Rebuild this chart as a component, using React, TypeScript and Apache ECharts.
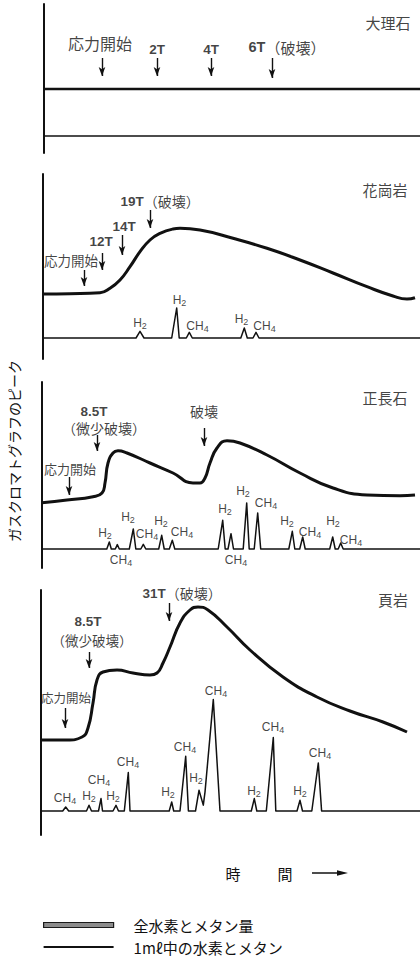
import React, { useEffect, useRef } from "react";
import * as echarts from "echarts";

const TOTAL = "全水素とメタン量";
const PER_ML = "1mℓ中の水素とメタン";
const JP = "'Noto Sans CJK JP', sans-serif";
const LAT = "'Liberation Sans', 'Noto Sans CJK JP', sans-serif";
const INK = "#111";

// ---------- 大理石 ----------
const marbleCurveTime = [0, 376];
const marbleCurveTotal = [47, 47];
const marblePeakGas: string[] = [];
const marblePeakTime: number[] = [];
const marblePeakHeight: number[] = [];
const marblePeakRise: number[] = [];
const marblePeakFall: number[] = [];
const marbleEventTime = [58, 113, 167, 228];

// ---------- 花崗岩 ----------
const graniteCurveTime = [0, 27, 57, 67, 77, 87, 97, 107, 117, 130, 137, 157, 190, 224, 257, 290, 324, 350, 364, 372];
const graniteCurveTotal = [44, 44.3, 45.3, 49.7, 58, 71.3, 86.3, 98, 104.7, 109, 109.7, 108, 99.7, 89.7, 78, 65, 51.3, 42, 39, 40.3];
const granitePeakGas = ["H2", "H2", "CH4", "H2", "CH4"];
const granitePeakTime = [97, 133.7, 146.3, 201.3, 213];
const granitePeakHeight = [6.6, 30, 5.6, 10, 5.6];
const granitePeakRise = [4, 5, 3, 3.5, 3];
const granitePeakFall = [4, 2.5, 3, 3, 3];
const graniteEventTime = [41, 59, 79, 107];

// ---------- 正長石 ----------
const orthoCurveTime = [0, 25, 51, 60, 63, 66, 71, 76, 85, 108, 131, 151, 158, 163, 168, 175, 185, 198, 225, 258, 291, 325, 358, 373];
const orthoCurveTotal = [46.3, 49, 52.3, 56, 66, 86, 96, 98.3, 96, 86, 76, 66, 66, 71, 86, 101, 108.3, 106, 94, 76, 61, 54, 53.3, 54];
const orthoPeakGas = ["H2", "CH4", "H2", "CH4", "H2", "CH4", "H2", "CH4", "H2", "CH4", "H2", "CH4", "H2", "CH4"];
const orthoPeakTime = [67.3, 75.3, 91.3, 101.3, 119.7, 130.3, 180.7, 189, 204.7, 215.7, 250.3, 260.7, 290.7, 298.7];
const orthoPeakHeight = [7, 4.4, 20, 4.7, 13.7, 8.7, 28.7, 15.3, 46, 36, 17.7, 12, 12, 6];
const orthoPeakRise = [2.5, 2, 4, 2.5, 3, 3, 4.5, 3, 3.5, 3.5, 3.5, 3, 3, 2.5];
const orthoPeakFall = [2, 2, 2.5, 2.5, 2.5, 2.5, 2.5, 2.5, 2.5, 3, 2.5, 2.5, 2.5, 2.5];
const orthoEventTime = [27, 55, 162];

// ---------- 頁岩 ----------
const shaleCurveTime = [0, 26, 41, 47, 52, 56, 62, 76, 92, 109, 116, 122, 129, 139, 149, 157, 167, 186, 209, 242, 276, 309, 342, 366];
const shaleCurveTotal = [71, 71, 74, 83, 108, 131, 139, 141, 138, 136, 138, 148, 164, 188, 201, 204, 201, 184, 161, 134, 114, 100, 89, 79];
const shalePeakGas = ["CH4", "H2", "CH4", "H2", "CH4", "H2", "CH4", "H2", "CH4", "H2", "CH4", "H2", "CH4"];
const shalePeakTime = [24.7, 48, 60, 75, 87.3, 130.7, 144.7, 158, 172.3, 213.3, 232.3, 259, 277.3];
const shalePeakHeight = [4, 5.7, 12.4, 5.7, 38.4, 9, 54.7, 20.7, 111.4, 12.4, 73.4, 10.7, 48];
const shalePeakRise = [3, 2.5, 2.5, 3, 4, 2.5, 5.7, 3.5, 10, 3, 7, 3, 6.5];
const shalePeakFall = [3, 2.5, 1.5, 2.5, 1.7, 2, 2.7, 6, 6.7, 2.5, 2.5, 2.5, 3.3];
const shaleEventTime = [24, 48, 128];

type TextItem = { text: string; at: number[]; size: number };

type Panel = {
  left: number;
  top: number;
  height: number;
  yMin: number;
  yMax: number;
  title: string;
  titleAt: number[];
  curveTime: number[];
  curveTotal: number[];
  curveWidth: number;
  traceWidth: number;
  gas: string[];
  peakTime: number[];
  peakHeight: number[];
  rise: number[];
  fall: number[];
  gasLabelAt: number[][];
  eventTime: number[];
  arrowSpan: number[][];
  texts: TextItem[];
};

const panels: Panel[] = [
  {
    left: 44, top: 4, height: 149, yMin: -17, yMax: 132,
    title: "大理石", titleAt: [344, 114],
    curveTime: marbleCurveTime, curveTotal: marbleCurveTotal, curveWidth: 2.4, traceWidth: 1.7,
    gas: marblePeakGas, peakTime: marblePeakTime, peakHeight: marblePeakHeight,
    rise: marblePeakRise, fall: marblePeakFall, gasLabelAt: [],
    eventTime: marbleEventTime,
    arrowSpan: [[78, 60], [78, 60], [78, 60], [78, 58]],
    texts: [
      { text: "応力開始", at: [56, 93], size: 16 },
      { text: "2T", at: [113, 87], size: 14 },
      { text: "4T", at: [167, 87], size: 14 },
      { text: "6T（破壊）", at: [243, 89], size: 15 },
    ],
  },
  {
    left: 43, top: 174, height: 185, yMin: -21, yMax: 164,
    title: "花崗岩", titleAt: [342, 149],
    curveTime: graniteCurveTime, curveTotal: graniteCurveTotal, curveWidth: 3, traceWidth: 1.5,
    gas: granitePeakGas, peakTime: granitePeakTime, peakHeight: granitePeakHeight,
    rise: granitePeakRise, fall: granitePeakFall,
    gasLabelAt: [[97, 15.5], [136.5, 38.5], [154.5, 12], [198.5, 19], [221.5, 12]],
    eventTime: graniteEventTime,
    arrowSpan: [[68, 52], [85, 68], [103, 83], [128, 110]],
    texts: [
      { text: "応力開始", at: [28, 78], size: 13.5 },
      { text: "12T", at: [58, 97], size: 14 },
      { text: "14T", at: [81, 112], size: 14 },
      { text: "19T（破壊）", at: [117, 137], size: 14 },
    ],
  },
  {
    left: 42, top: 382, height: 186, yMin: -19, yMax: 167,
    title: "正長石", titleAt: [343, 152],
    curveTime: orthoCurveTime, curveTotal: orthoCurveTotal, curveWidth: 3, traceWidth: 1.5,
    gas: orthoPeakGas, peakTime: orthoPeakTime, peakHeight: orthoPeakHeight,
    rise: orthoPeakRise, fall: orthoPeakFall,
    gasLabelAt: [[63, 16], [79, -11], [86, 32], [105, 15], [119, 28], [140, 17], [183, 40], [194, -11], [201, 58], [224, 46], [245, 28], [268, 17], [291, 28], [309, 9]],
    eventTime: orthoEventTime,
    arrowSpan: [[72, 54], [114, 98], [121, 103]],
    texts: [
      { text: "応力開始", at: [28, 81], size: 13 },
      { text: "8.5T", at: [52, 138], size: 14 },
      { text: "（微少破壊）", at: [62, 121], size: 14 },
      { text: "破壊", at: [162, 138], size: 14 },
    ],
  },
  {
    left: 41, top: 590, height: 245, yMin: -24, yMax: 221,
    title: "頁岩", titleAt: [352, 212],
    curveTime: shaleCurveTime, curveTotal: shaleCurveTotal, curveWidth: 3, traceWidth: 1.5,
    gas: shalePeakGas, peakTime: shalePeakTime, peakHeight: shalePeakHeight,
    rise: shalePeakRise, fall: shalePeakFall,
    gasLabelAt: [[24, 13], [48, 15], [58, 31], [72, 15], [87, 49], [127, 19], [144, 64], [155, 33], [175, 120], [213, 20], [232, 84], [259, 20], [279, 58]],
    eventTime: shaleEventTime,
    arrowSpan: [[103, 83], [159, 143], [208, 190]],
    texts: [
      { text: "応力開始", at: [25, 114], size: 12.5 },
      { text: "8.5T", at: [47, 190], size: 14 },
      { text: "（微少破壊）", at: [51, 171], size: 13.5 },
      { text: "31T（破壊）", at: [141, 218], size: 14 },
    ],
  },
];

// Chromatogram trace: each peak is a triangle (rise / fall half-widths);
// overlapping peaks add up at every vertex.
function buildTrace(p: Panel, end: number): number[][] {
  const xs = new Set<number>([0, end]);
  p.peakTime.forEach((t, i) => {
    xs.add(t - p.rise[i]);
    xs.add(t);
    xs.add(t + p.fall[i]);
  });
  const sorted = Array.from(xs).sort((a, b) => a - b);
  return sorted.map((x) => {
    let v = 0;
    p.peakTime.forEach((t, i) => {
      const a = t - p.rise[i];
      const b = t + p.fall[i];
      if (x > a && x < b) {
        v += x <= t ? (p.peakHeight[i] * (x - a)) / p.rise[i] : (p.peakHeight[i] * (b - x)) / p.fall[i];
      }
    });
    return [x, Math.round(v * 100) / 100];
  });
}

function buildOption() {
  const grid: any[] = [];
  const xAxis: any[] = [];
  const yAxis: any[] = [];
  const series: any[] = [];

  panels.forEach((p, i) => {
    const xMax = 420 - p.left;
    grid.push({ left: p.left, right: 0, top: p.top, height: p.height, containLabel: false });
    xAxis.push({ type: "value", gridIndex: i, min: 0, max: xMax, show: false });
    yAxis.push({
      type: "value",
      gridIndex: i,
      min: p.yMin,
      max: p.yMax,
      axisLine: { show: true, onZero: false, lineStyle: { color: INK, width: 2 } },
      axisTick: { show: false },
      axisLabel: { show: false },
      splitLine: { show: false },
    });

    series.push({
      type: "line",
      name: TOTAL,
      xAxisIndex: i,
      yAxisIndex: i,
      data: p.curveTime.map((t, k) => [t, p.curveTotal[k]]),
      smooth: 0.5,
      symbol: "none",
      silent: true,
      color: INK,
      lineStyle: { color: INK, width: p.curveWidth },
      z: 3,
    });

    series.push({
      type: "line",
      name: PER_ML,
      xAxisIndex: i,
      yAxisIndex: i,
      data: buildTrace(p, xMax),
      symbol: "none",
      silent: true,
      color: INK,
      lineStyle: { color: INK, width: p.traceWidth, join: "round" },
      z: 3,
    });

    // gas names above / below the peaks
    series.push({
      type: "scatter",
      xAxisIndex: i,
      yAxisIndex: i,
      symbolSize: 1,
      silent: true,
      itemStyle: { color: "transparent" },
      data: p.gas.map((g, k) => ({ value: p.gasLabelAt[k], name: g })),
      label: {
        show: true,
        position: "inside",
        color: INK,
        formatter: (d: any) => (d.name === "H2" ? "{m|H}{s|2}" : "{m|CH}{s|4}"),
        rich: {
          m: { fontFamily: LAT, fontSize: 12, lineHeight: 15, color: INK },
          s: { fontFamily: LAT, fontSize: 9, lineHeight: 9, verticalAlign: "bottom", color: INK },
        },
      },
      z: 5,
    });

    // panel name, stress annotations and arrows
    series.push({
      type: "scatter",
      xAxisIndex: i,
      yAxisIndex: i,
      symbolSize: 1,
      silent: true,
      itemStyle: { color: "transparent" },
      data: [
        { value: p.titleAt, name: p.title, label: { fontSize: 15 } },
        ...p.texts.map((x) => ({
          value: x.at,
          name: x.text,
          label: { fontSize: x.size, rich: { b: { fontFamily: LAT, fontWeight: "bold", fontSize: x.size - 0.5, color: INK } } },
        })),
      ],
      label: {
        show: true,
        position: "inside",
        color: INK,
        fontFamily: JP,
        formatter: (d: any) => String(d.name).replace(/([\d.]+T)/, "{b|$1}"),
        rich: { b: { fontFamily: LAT, fontWeight: "bold", fontSize: 13.5, color: INK } },
      },
      markLine: {
        silent: true,
        animation: false,
        symbol: ["none", "arrow"],
        symbolSize: [5, 9],
        label: { show: false },
        lineStyle: { color: INK, width: 1.4, type: "solid" },
        emphasis: { disabled: true },
        data: p.eventTime.map((t, k) => [
          { coord: [t, p.arrowSpan[k][0]] },
          { coord: [t, p.arrowSpan[k][1]] },
        ]),
      },
      z: 5,
    });
  });

  return {
    animation: false,
    backgroundColor: "#fff",
    grid,
    xAxis,
    yAxis,
    series,
    legend: {
      orient: "vertical",
      left: 43,
      top: 917,
      padding: 0,
      itemWidth: 70,
      itemHeight: 5,
      itemGap: 6,
      selectedMode: false,
      textStyle: { fontFamily: JP, fontSize: 15, lineHeight: 16, color: INK, padding: [0, 0, 0, 15] },
      data: [
        { name: TOTAL, icon: "rect", itemStyle: { color: "#8c8c8c", borderColor: "#1a1a1a", borderWidth: 1.2 } },
        { name: PER_ML, icon: "path://M0 0H70V2H0Z", itemStyle: { color: INK, borderWidth: 0 } },
      ],
    },
    graphic: [
      {
        type: "text",
        x: 14,
        y: 451,
        rotation: Math.PI / 2,
        style: {
          text: "ガスクロマトグラフのピーク",
          font: "14px 'Noto Sans CJK JP'",
          fill: INK,
          textAlign: "center",
          textVerticalAlign: "middle",
        },
      },
      {
        type: "text",
        x: 233,
        y: 873,
        style: { text: "時", font: "15px 'Noto Sans CJK JP'", fill: INK, textAlign: "center", textVerticalAlign: "middle" },
      },
      {
        type: "text",
        x: 285,
        y: 873,
        style: { text: "間", font: "15px 'Noto Sans CJK JP'", fill: INK, textAlign: "center", textVerticalAlign: "middle" },
      },
      {
        type: "line",
        shape: { x1: 312, y1: 873, x2: 340, y2: 873 },
        style: { stroke: INK, lineWidth: 1.5 },
      },
      {
        type: "polygon",
        shape: { points: [[348, 873], [337, 870.3], [337, 875.7]] },
        style: { fill: INK },
      },
    ],
  };
}

export default function App() {
  const ref = useRef<HTMLDivElement>(null);
  useEffect(() => {
    if (!ref.current) return;
    const chart = echarts.init(ref.current, undefined, { renderer: "svg" });
    chart.setOption(buildOption() as any);
    return () => chart.dispose();
  }, []);
  return (
    <div
      ref={ref}
      style={{ position: "absolute", left: 0, top: 0, width: 420, height: 959, background: "#fff" }}
    />
  );
}
